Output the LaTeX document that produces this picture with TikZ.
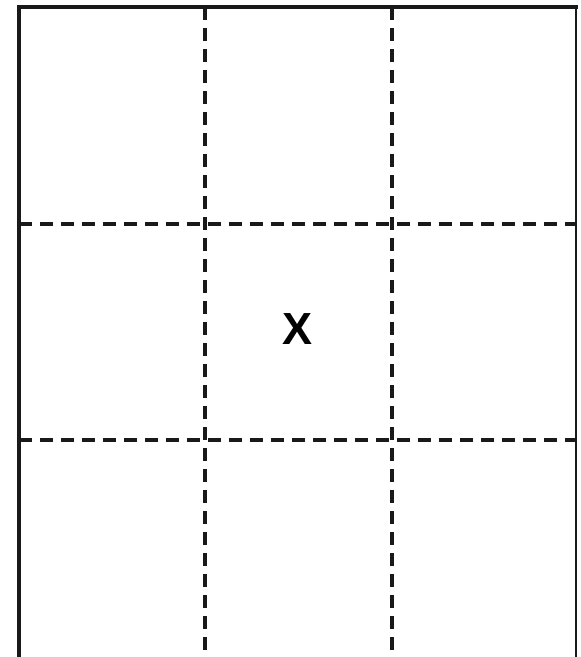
\documentclass[tikz,border=0pt]{standalone}
\usepackage{fontspec}
\setmainfont{Liberation Sans}
\begin{document}
\begin{tikzpicture}[x=1pt,y=-1pt,
  frame/.style={line width=3.6pt, black!90},
  cut/.style={line width=3.4pt, black!90, dash pattern=on 13pt off 8pt},
  label/.style={font=\fontsize{45}{50}\selectfont\bfseries, inner sep=0pt}]
\useasboundingbox (0,0) rectangle (581,657);
\coordinate (bl) at (19,657);
\coordinate (tl) at (19,7);
\coordinate (tr) at (576,7);
\coordinate (br) at (576,657);
\coordinate (v1t) at (205,7);
\coordinate (v1b) at (205,657);
\coordinate (v2t) at (392,7);
\coordinate (v2b) at (392,657);
\coordinate (h1l) at (19,224);
\coordinate (h1r) at (576,224);
\coordinate (h2l) at (19,440);
\coordinate (h2r) at (576,440);
\draw[cut] (v1t) -- (v1b);
\draw[cut] (v2t) -- (v2b);
\draw[cut] (h1l) -- (h1r);
\draw[cut] (h2l) -- (h2r);
\draw[frame, line cap=rect] (bl) -- (tl) -- (tr);
\draw[line width=2.4pt, black!90] (tr) -- (br);
\draw[line width=0.8pt, black!25] (bl) -- (br);
\node[label] (x) at (297.5,329) {X};
\end{tikzpicture}
\end{document}
